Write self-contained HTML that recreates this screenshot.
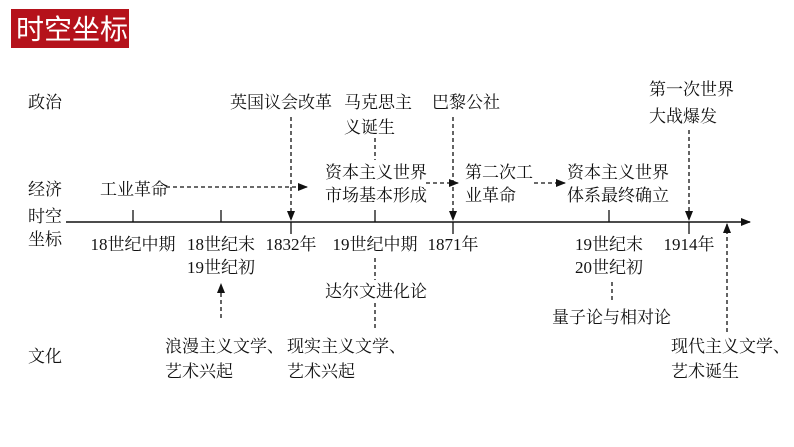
<!DOCTYPE html>
<html><head><meta charset="utf-8"><style>
html,body{margin:0;padding:0;background:#fff;}
svg{display:block;}
text{font-family:"Liberation Serif","Noto Serif CJK SC",serif;font-size:17px;fill:#111;}
</style></head><body>
<svg width="794" height="447" viewBox="0 0 794 447" xmlns="http://www.w3.org/2000/svg">
<defs>
<marker id="a" markerWidth="10" markerHeight="8" refX="9" refY="4" orient="auto" markerUnits="userSpaceOnUse"><path d="M0,0 L10,4 L0,8 Z" fill="#111"/></marker>
</defs>
<rect x="11" y="9" width="118" height="39" fill="#b5121b"/>
<text x="16" y="39" style="font-size:28px;fill:#fff;font-family:'Noto Sans CJK SC',sans-serif">时空坐标</text>

<text x="28" y="108">政治</text>
<text x="28" y="195">经济</text>
<text x="28" y="222">时空</text>
<text x="28" y="245">坐标</text>
<text x="28" y="362">文化</text>

<line x1="66" y1="222" x2="750" y2="222" stroke="#111" stroke-width="1.5" marker-end="url(#a)"/>
<g stroke="#111" stroke-width="1.3">
<line x1="133" y1="210" x2="133" y2="222"/>
<line x1="221" y1="210" x2="221" y2="222"/>
<line x1="291" y1="222" x2="291" y2="234"/>
<line x1="375" y1="210" x2="375" y2="222"/>
<line x1="453" y1="222" x2="453" y2="234"/>
<line x1="609" y1="210" x2="609" y2="222"/>
<line x1="689" y1="222" x2="689" y2="234"/>
</g>

<g text-anchor="middle">
<text x="133" y="250">18世纪中期</text>
<text x="221" y="250">18世纪末</text>
<text x="221" y="273">19世纪初</text>
<text x="291" y="250">1832年</text>
<text x="375" y="250">19世纪中期</text>
<text x="453" y="250">1871年</text>
<text x="609" y="250">19世纪末</text>
<text x="609" y="273">20世纪初</text>
<text x="689" y="250">1914年</text>
</g>

<text x="230" y="108">英国议会改革</text>
<text x="344" y="108">马克思主</text>
<text x="344" y="133">义诞生</text>
<text x="432" y="108">巴黎公社</text>
<text x="649" y="95">第一次世界</text>
<text x="649" y="122">大战爆发</text>

<text x="100" y="195">工业革命</text>
<text x="325" y="178">资本主义世界</text>
<text x="325" y="201">市场基本形成</text>
<text x="465" y="178">第二次工</text>
<text x="465" y="201">业革命</text>
<text x="567" y="178">资本主义世界</text>
<text x="567" y="201">体系最终确立</text>

<g stroke="#111" stroke-width="1.3" stroke-dasharray="4,3" fill="none">
<line x1="166" y1="187" x2="307" y2="187" marker-end="url(#a)"/>
<line x1="426" y1="183" x2="458" y2="183" marker-end="url(#a)"/>
<line x1="534" y1="183" x2="565" y2="183" marker-end="url(#a)"/>
<line x1="291" y1="117" x2="291" y2="220" marker-end="url(#a)"/>
<line x1="453" y1="117" x2="453" y2="220" marker-end="url(#a)"/>
<line x1="689" y1="130" x2="689" y2="220" marker-end="url(#a)"/>
<line x1="375" y1="138" x2="375" y2="160"/>
<line x1="375" y1="258" x2="375" y2="280"/>
<line x1="375" y1="303" x2="375" y2="328"/>
<line x1="612" y1="282" x2="612" y2="302"/>
<line x1="221" y1="318" x2="221" y2="284" marker-end="url(#a)"/>
<line x1="727" y1="332" x2="727" y2="224" marker-end="url(#a)"/>
</g>

<text x="325" y="297">达尔文进化论</text>
<text x="165" y="352">浪漫主义文学、</text>
<text x="165" y="377">艺术兴起</text>
<text x="287" y="352">现实主义文学、</text>
<text x="287" y="377">艺术兴起</text>
<text x="552" y="323">量子论与相对论</text>
<text x="671" y="352">现代主义文学、</text>
<text x="671" y="377">艺术诞生</text>
</svg>
</body></html>
